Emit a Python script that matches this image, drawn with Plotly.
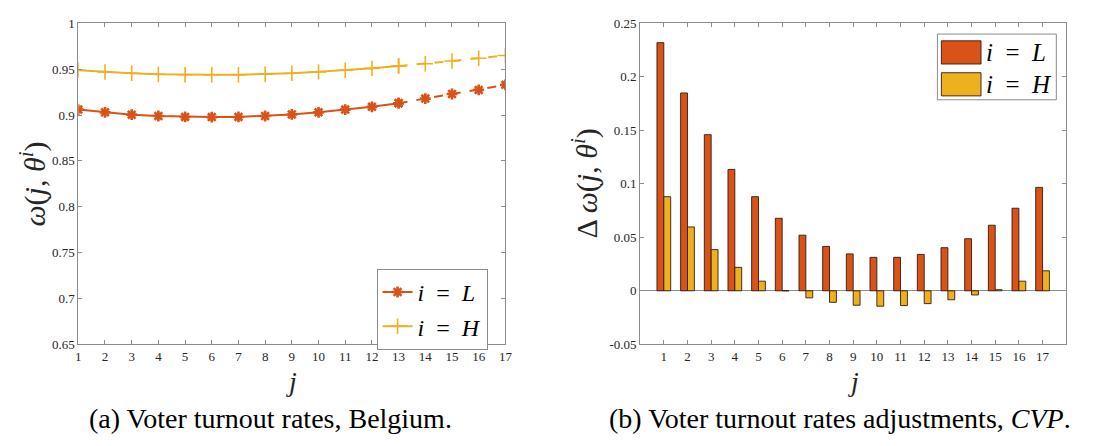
import plotly.graph_objects as go

# Electoral district index j
districts = list(range(1, 18))

# Turnout rates omega(j, theta^i), Belgium
omega_L = [0.906, 0.903, 0.9005, 0.899, 0.898, 0.8978, 0.898, 0.899, 0.9007,
           0.903, 0.906, 0.909, 0.913, 0.918, 0.923, 0.9275, 0.933]
omega_H = [0.949, 0.947, 0.9457, 0.9446, 0.944, 0.944, 0.944, 0.9446, 0.9457,
           0.9472, 0.949, 0.951, 0.9536, 0.956, 0.959, 0.962, 0.965]
# observed range is drawn solid, extrapolated range dashed
last_observed = 13

# Turnout adjustments Delta omega(j, theta^i), CVP
delta_L = [0.232, 0.185, 0.146, 0.1135, 0.088, 0.0678, 0.052, 0.0415, 0.0345,
           0.0313, 0.0313, 0.034, 0.0403, 0.0487, 0.0613, 0.0772, 0.0967]
delta_H = [0.088, 0.0597, 0.0385, 0.0219, 0.009, 0.0, -0.0066, -0.0108, -0.0135,
           -0.0144, -0.0138, -0.012, -0.0084, -0.0039, 0.001, 0.009, 0.0187]

left_yticks = [0.65, 0.7, 0.75, 0.8, 0.85, 0.9, 0.95, 1]
left_yticktext = ["0.65", "0.7", "0.75", "0.8", "0.85", "0.9", "0.95", "1"]
right_yticks = [-0.05, 0, 0.05, 0.1, 0.15, 0.2, 0.25]
right_yticktext = ["-0.05", "0", "0.05", "0.1", "0.15", "0.2", "0.25"]

C_L = "#D95319"
C_H = "#EDB120"
AXIS = "#8c8c8c"
TXT = "#262626"
FONT = "Liberation Serif"
SP = "\u2002"

W, H = 1099, 446


def px(x):
    return x / W


def py(y):
    return 1 - y / H


label_L = f"<i>i</i>{SP}={SP}<i>L</i>"
label_H = f"<i>i</i>{SP}={SP}<i>H</i>"

fig = go.Figure()

k = last_observed
series = [(label_L, omega_L, C_L,
           dict(symbol="asterisk-open", size=9, line=dict(width=2.6, color=C_L))),
          (label_H, omega_H, C_H,
           dict(symbol="cross-thin-open", size=11, line=dict(width=1.6, color=C_H)))]
for name, vals, col, mk in series:
    fig.add_trace(go.Scatter(
        x=districts[:k], y=vals[:k], mode="lines+markers", name=name,
        line=dict(color=col, width=2), marker=dict(color=col, **mk),
        xaxis="x", yaxis="y", legend="legend"))
    fig.add_trace(go.Scatter(
        x=districts[k - 1:], y=vals[k - 1:], mode="lines+markers", showlegend=False,
        line=dict(color=col, width=2, dash="dash"), marker=dict(color=col, **mk),
        xaxis="x", yaxis="y"))

for name, vals, col in [("i = L", delta_L, C_L), ("i = H", delta_H, C_H)]:
    fig.add_trace(go.Bar(
        x=districts, y=vals, name=name, showlegend=False,
        marker=dict(color=col, line=dict(color="rgba(40,20,10,0.85)", width=1)),
        xaxis="x2", yaxis="y2"))

common_axis = dict(showline=True, linecolor=AXIS, linewidth=1, mirror="ticks",
                   ticks="inside", ticklen=4, tickcolor=AXIS, showgrid=False,
                   tickfont=dict(family=FONT, size=13, color=TXT))

fig.update_layout(
    width=W, height=H, autosize=False, margin=dict(l=0, r=0, t=0, b=0, pad=0),
    paper_bgcolor="white", plot_bgcolor="white",
    barmode="group", bargap=0.42, bargroupgap=0,
    font=dict(family=FONT, color=TXT),
    xaxis=dict(domain=[px(76), px(507)], range=[1, 17], tickvals=districts,
               anchor="y", zeroline=False, **common_axis),
    yaxis=dict(domain=[py(349), py(17)], range=[0.65, 1], tickvals=left_yticks,
               ticktext=left_yticktext, anchor="x", zeroline=False, **common_axis),
    xaxis2=dict(domain=[px(643), px(1073)], range=[0, 18], tickvals=districts,
                anchor="y2", zeroline=False, **common_axis),
    yaxis2=dict(domain=[py(349), py(17)], range=[-0.05, 0.25], tickvals=right_yticks,
                ticktext=right_yticktext, anchor="x2", zeroline=True,
                zerolinecolor=AXIS, zerolinewidth=1, **common_axis),
    legend=dict(x=px(377), y=py(271), xanchor="left", yanchor="top",
                bgcolor="white", bordercolor=AXIS, borderwidth=1,
                font=dict(family=FONT, size=24, color="black"),
                tracegroupgap=0, itemwidth=30),
)


def note(x, y, text, size, color=TXT, **kw):
    d = dict(x=px(x), y=py(y), text=text, showarrow=False, xref="paper",
             yref="paper", xanchor="center", yanchor="middle",
             font=dict(family=FONT, size=size, color=color))
    d.update(kw)
    return d


ann = [
    # axis titles
    note(291, 388, "<i>j</i>", 28),
    note(858, 388, "<i>j</i>", 28),
    note(31, 183, "<i>ω</i>(<i>j</i>, <i>θ</i><sup><i>i</i></sup>)", 30, textangle=-90),
    note(588, 183, "Δ <i>ω</i>(<i>j</i>, <i>θ</i><sup><i>i</i></sup>)", 30, textangle=-90),
    # captions
    note(270, 426, "(a) Voter turnout rates, Belgium.", 28, "black"),
    note(845, 426, "(b) Voter turnout rates adjustments, <i>CVP</i>.", 28, "black"),
]

# legend for the bar panel
shapes = [dict(type="rect", xref="paper", yref="paper",
               x0=px(943), x1=px(1063), y0=py(96), y1=py(28),
               line=dict(color=AXIS, width=1), fillcolor="white")]
for i, (label, col) in enumerate([(label_L, C_L), (label_H, C_H)]):
    top = 35 + i * 33
    shapes.append(dict(type="rect", xref="paper", yref="paper",
                       x0=px(947), x1=px(987), y0=py(top + 24), y1=py(top),
                       line=dict(color="rgba(40,20,10,0.85)", width=1), fillcolor=col))
    ann.append(note(990, top + 12, label, 25, "black", xanchor="left"))

fig.update_layout(annotations=ann, shapes=shapes)
fig.write_html("out.html", config={"responsive": False})
